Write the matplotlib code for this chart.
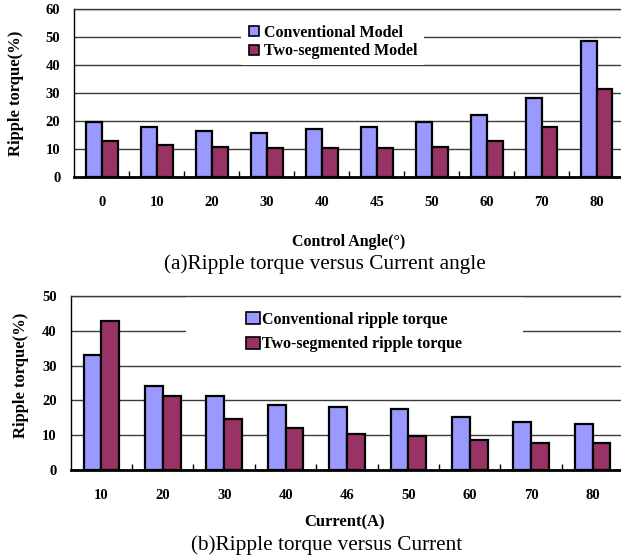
import matplotlib
matplotlib.use("Agg")
import matplotlib.pyplot as plt
import numpy as np
from matplotlib.patches import Rectangle

# Panel (a): ripple torque vs control angle
angle_labels = ["0", "10", "20", "30", "40", "45", "50", "60", "70", "80"]
angle_conventional = [19.4, 17.9, 16.5, 15.8, 17.2, 17.9, 19.4, 22.2, 28.0, 48.7]
angle_two_segmented = [12.9, 11.5, 10.7, 10.1, 10.1, 10.1, 10.7, 12.9, 17.9, 31.4]

# Panel (b): ripple torque vs current
current_labels = ["10", "20", "30", "40", "46", "50", "60", "70", "80"]
current_conventional = [33.1, 24.1, 21.2, 18.7, 18.1, 17.6, 15.2, 13.9, 13.3]
current_two_segmented = [42.8, 21.2, 14.6, 12.2, 10.4, 9.8, 8.6, 7.9, 7.9]

W, H = 621, 560
BLUE = "#9999FF"
PLUM = "#993366"
GRID = "#3a3a3a"
serif = ["Liberation Serif", "DejaVu Serif"]

fig = plt.figure(figsize=(W / 100, H / 100), dpi=100)


def px_axes(left, top, right, bottom):
    return fig.add_axes([left / W, 1 - bottom / H, (right - left) / W, (bottom - top) / H])


def draw_panel(ax, labels, conv, seg, ymax, step, names, legend_box, legend_anchor,
               legend_space, handle_len, text_pad):
    n = len(labels)
    x = np.arange(n)
    w = 0.29
    ax.bar(x - w / 2, conv, width=w, color=BLUE, edgecolor="black", linewidth=1.6,
           label=names[0], zorder=3)
    ax.bar(x + w / 2, seg, width=w, color=PLUM, edgecolor="black", linewidth=1.6,
           label=names[1], zorder=3)
    ax.set_xlim(-0.5, n - 0.5)
    ax.set_ylim(0, ymax)
    ax.set_yticks(np.arange(0, ymax + 1, step))
    ax.yaxis.grid(True, color=GRID, linewidth=1.0, zorder=0)
    ax.set_axisbelow(True)
    ax.set_xticks(x)
    ax.set_xticklabels(labels)
    ax.set_xticks(np.arange(0.5, n, 1.0), minor=True)
    ax.tick_params(axis="x", which="major", length=0, pad=14)
    ax.tick_params(axis="x", which="minor", direction="in", length=4, width=1.0, color="black")
    ax.tick_params(axis="y", length=0, pad=10)
    for lab in ax.get_xticklabels() + ax.get_yticklabels():
        lab.set_fontfamily(serif)
        lab.set_fontweight("bold")
        lab.set_fontsize(10.5)
    ax.spines["right"].set_visible(False)
    ax.spines["top"].set_color(GRID)
    ax.spines["top"].set_linewidth(1.0)
    ax.spines["left"].set_linewidth(1.0)
    ax.spines["bottom"].set_linewidth(2.0)
    # white backdrop behind the legend entries
    bx0, by0, bx1, by1 = legend_box
    ax.add_patch(Rectangle((bx0, by0), bx1 - bx0, by1 - by0, transform=ax.transAxes,
                           facecolor="white", edgecolor="none", zorder=1.5))
    leg = ax.legend(loc="upper left", bbox_to_anchor=legend_anchor, frameon=False,
                    prop={"family": serif, "weight": "bold", "size": 11.5},
                    handlelength=handle_len, handleheight=handle_len,
                    handletextpad=text_pad, labelspacing=legend_space,
                    borderaxespad=0, borderpad=0)
    for h in leg.legend_handles:
        h.set_linewidth(1.2)
    return ax


# Panel (a)
ax1 = px_axes(74.3, 9, 624, 176.7)
draw_panel(ax1, angle_labels, angle_conventional, angle_two_segmented, 60, 10,
           ["Conventional Model", "Two-segmented Model"],
           (0.303, 0.666, 0.637, 0.899), (0.318, 0.905), 0.15, 0.6, 0.35)
ax1.set_ylabel("Ripple torque(%)", fontfamily=serif, fontweight="bold", fontsize=12)
ax1.yaxis.set_label_coords(-0.092, 0.5)
fig.text(348.5 / W, 1 - 241.5 / H, "Control Angle(°)", ha="center", va="center",
         fontfamily=serif, fontweight="bold", fontsize=11.5)
fig.text(325 / W, 1 - 264.5 / H, "(a)Ripple torque versus Current angle", ha="center",
         va="center", fontfamily=serif, fontsize=15.3)

# Panel (b)
ax2 = px_axes(70.7, 296, 623.3, 470)
draw_panel(ax2, current_labels, current_conventional, current_two_segmented, 50, 10,
           ["Conventional ripple torque", "Two-segmented ripple torque"],
           (0.209, 0.69, 0.818, 0.999), (0.318, 0.91), 0.55, 0.85, 0.15)
ax2.set_ylabel("Ripple torque(%)", fontfamily=serif, fontweight="bold", fontsize=12)
ax2.yaxis.set_label_coords(-0.075, 0.546)
fig.text(344.5 / W, 1 - 522.5 / H, "Current(A)", ha="center", va="center",
         fontfamily=serif, fontweight="bold", fontsize=12)
fig.text(326.7 / W, 1 - 545 / H, "(b)Ripple torque versus Current", ha="center",
         va="center", fontfamily=serif, fontsize=15.3)

fig.savefig("out.png", dpi=100)
